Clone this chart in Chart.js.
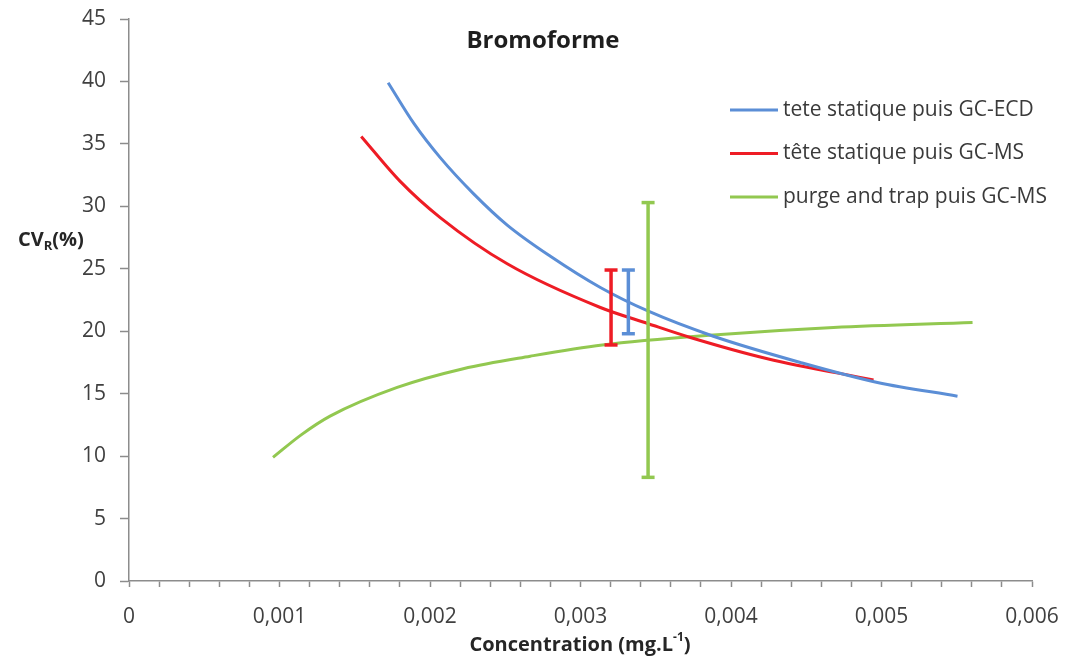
<!DOCTYPE html>
<html>
<head>
<meta charset="utf-8">
<script src="https://cdn.jsdelivr.net/npm/chart.js@4/dist/chart.umd.min.js"></script>
<style>
  body { margin: 0; background: #fff; }
  canvas { display: block; }
</style>
</head>
<body>
<canvas id="myChart" width="1078" height="662"></canvas>
<script>
// values
const seriesNames = ['tete statique puis GC-ECD', 'tête statique puis GC-MS', 'purge and trap puis GC-MS']
const seriesColors = ['#5b8ed6', '#ee1c25', '#92c850']

const ecdX = [0.001722, 0.001895, 0.002068, 0.00229, 0.002513, 0.0028, 0.003132, 0.003451, 0.003883, 0.004461, 0.004973, 0.005505]
const ecdY = [39.9, 36.6, 33.9, 31.0, 28.5, 26.0, 23.5, 21.6, 19.6, 17.5, 15.9, 14.8]

const msX = [0.001543, 0.001802, 0.002068, 0.002513, 0.003132, 0.003451, 0.003730, 0.004242, 0.004947]
const msY = [35.6, 32.0, 29.1, 25.4, 21.9, 20.6, 19.5, 17.8, 16.1]

const ptX = [0.000957, 0.001144, 0.001336, 0.001782, 0.002221, 0.002666, 0.003145, 0.003883, 0.004681, 0.005605]
const ptY = [9.9, 11.7, 13.2, 15.5, 17.0, 18.0, 18.9, 19.7, 20.3, 20.7]

// error bars (index into seriesColors)
const errSeries = [1, 0, 2]
const errX = [0.003203, 0.003318, 0.003449]
const errLow = [18.9, 19.8, 8.3]
const errHigh = [24.9, 24.9, 30.3]

const chartTitle = 'Bromoforme'
const xTitle = 'Concentration (mg.L'
const yTitle = 'CV'

function toPoints(xs, ys) {
    let pts = []
    for (let i = 0; i < xs.length; i++) pts.push({x: xs[i], y: ys[i]})
    return pts
}

let datasets = []
const curves = [[ecdX, ecdY], [msX, msY], [ptX, ptY]]
for (let i = 0; i < curves.length; i++) {
    datasets.push({
        label: seriesNames[i],
        data: toPoints(curves[i][0], curves[i][1]),
        showLine: true,
        borderColor: seriesColors[i],
        backgroundColor: seriesColors[i],
        borderWidth: 3,
        pointRadius: 0,
        cubicInterpolationMode: 'monotone',
        order: 2
    })
}
for (let i = 0; i < errX.length; i++) {
    const c = seriesColors[errSeries[i]]
    datasets.push({
        label: 'err' + i,
        data: [{x: errX[i], y: errLow[i]}, {x: errX[i], y: errHigh[i]}],
        showLine: true,
        borderColor: c,
        backgroundColor: c,
        borderWidth: 3.5,
        pointStyle: 'line',
        pointRadius: 6.5,
        pointBorderWidth: 3.5,
        pointBorderColor: c,
        order: 1
    })
}

const textPlugin = {
    id: 'texts',
    afterDraw(chart) {
        const ctx = chart.ctx
        ctx.save()
        // title
        ctx.fillStyle = '#1e1e1e'
        ctx.font = 'bold 24px "Open Sans"'
        ctx.textAlign = 'center'
        ctx.textBaseline = 'middle'
        ctx.fillText(chartTitle, 543, 41)

        // legend
        ctx.textAlign = 'left'
        ctx.font = '21px "Open Sans"'
        for (let i = 0; i < seriesNames.length; i++) {
            const y = 110 + i * 43.5
            ctx.strokeStyle = seriesColors[i]
            ctx.lineWidth = 3
            ctx.beginPath()
            ctx.moveTo(730, y)
            ctx.lineTo(778, y)
            ctx.stroke()
            ctx.fillStyle = '#3a3a3a'
            ctx.fillText(seriesNames[i], 783, y)
        }

        // y title with subscript
        ctx.fillStyle = '#262626'
        ctx.font = 'bold 20px "Open Sans"'
        let x = 18
        ctx.fillText(yTitle, x, 240)
        x += ctx.measureText(yTitle).width
        ctx.font = 'bold 13px "Open Sans"'
        ctx.fillText('R', x, 246)
        x += ctx.measureText('R').width
        ctx.font = 'bold 20px "Open Sans"'
        ctx.fillText('(%)', x, 240)

        // x title with superscript
        ctx.font = 'bold 20px "Open Sans"'
        const w1 = ctx.measureText(xTitle).width
        ctx.font = 'bold 12px "Open Sans"'
        const w2 = ctx.measureText('-1').width
        ctx.font = 'bold 20px "Open Sans"'
        const w3 = ctx.measureText(')').width
        x = 580 - (w1 + w2 + w3) / 2
        ctx.fillText(xTitle, x, 645)
        ctx.font = 'bold 12px "Open Sans"'
        ctx.fillText('-1', x + w1, 638)
        ctx.font = 'bold 20px "Open Sans"'
        ctx.fillText(')', x + w1 + w2, 645)
        ctx.restore()
    }
}

const config = {
    type: 'scatter',
    data: {datasets: datasets},
    options: {
        responsive: false,
        animation: false,
        devicePixelRatio: 1,
        layout: {padding: {top: 19, right: 46, left: 0, bottom: 0}},
        plugins: {legend: {display: false}, tooltip: {enabled: false}},
        scales: {
            x: {
                type: 'linear',
                min: 0,
                max: 0.006,
                afterFit(scale) { scale.height = 81 },
                border: {color: '#8c8c8c', width: 1.5},
                grid: {drawOnChartArea: false, drawTicks: true, tickLength: 6, color: '#8c8c8c', tickWidth: 1.5},
                ticks: {
                    stepSize: 0.0002,
                    maxTicksLimit: 100,
                    autoSkip: false,
                    maxRotation: 0,
                    padding: 17,
                    color: '#404040',
                    font: {family: 'Open Sans', size: 21},
                    callback: function(v) {
                        const k = Math.round(v * 10000)
                        if (k % 10 !== 0) return ''
                        if (k === 0) return '0'
                        return (k / 10000).toFixed(3).replace('.', ',')
                    }
                }
            },
            y: {
                min: 0,
                max: 45,
                afterFit(scale) {
                    scale.width = 129
                    scale.paddingTop = 0
                    scale.paddingBottom = 0
                },
                border: {color: '#8c8c8c', width: 1.5},
                grid: {drawOnChartArea: false, drawTicks: true, tickLength: 9, color: '#8c8c8c', tickWidth: 1.5},
                ticks: {
                    stepSize: 5,
                    padding: 14,
                    color: '#404040',
                    font: {family: 'Open Sans', size: 21}
                }
            }
        }
    },
    plugins: [textPlugin]
}

var myChart = new Chart('myChart', config)
</script>
</body>
</html>
